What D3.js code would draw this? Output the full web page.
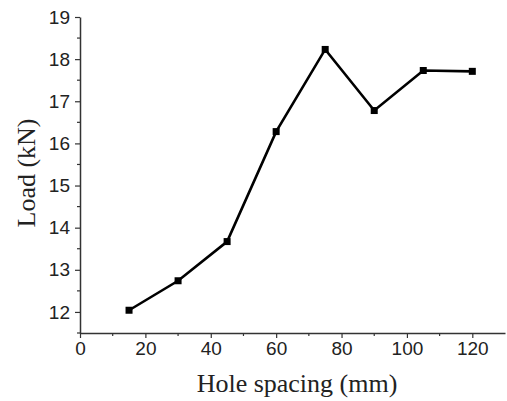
<!DOCTYPE html>
<html><head><meta charset="utf-8">
<script src="https://cdn.jsdelivr.net/npm/d3@7"></script>
<style>body{margin:0;background:#fff}svg{display:block}</style>
</head><body>
<svg id="c" width="507" height="401"></svg>
<script>
const spacing = [15, 30, 45, 60, 75, 90, 105, 120];
const load = [12.04, 12.74, 13.67, 16.28, 18.23, 16.78, 17.73, 17.71];
const xTicks = [0, 20, 40, 60, 80, 100, 120];
const yTicks = [12, 13, 14, 15, 16, 17, 18, 19];
const xTitle = "Hole spacing (mm)";
const yTitle = "Load (kN)";

const svg = d3.select("#c");
const L = 80, R = 505, T = 17, B = 333;
const x = d3.scaleLinear().domain([0, 130]).range([L, R]);
const y = d3.scaleLinear().domain([11.5, 19]).range([B, T]);
const axisColor = "#333";

const xMinor = d3.range(10, 130, 20);
const yMinor = d3.range(11.5, 19, 1);

const gx = svg.append("g").attr("transform", `translate(0,${B})`)
  .call(d3.axisBottom(x).tickValues(xTicks).tickSize(5).tickSizeOuter(0).tickPadding(4));
gx.append("g").selectAll("line").data(xMinor).join("line")
  .attr("x1", d => x(d)).attr("x2", d => x(d)).attr("y1", 0).attr("y2", 3);
const gy = svg.append("g").attr("transform", `translate(${L},0)`)
  .call(d3.axisLeft(y).tickValues(yTicks).tickSize(5).tickSizeOuter(0).tickPadding(5));
gy.append("g").selectAll("line").data(yMinor).join("line")
  .attr("y1", d => y(d)).attr("y2", d => y(d)).attr("x1", 0).attr("x2", -3);

[gx, gy].forEach(g => {
  g.select(".domain").attr("stroke", axisColor).attr("stroke-width", 1.5);
  g.selectAll("line").attr("stroke", axisColor).attr("stroke-width", 1.2);
  g.selectAll("text").attr("font-family", "Liberation Sans, Arial, sans-serif")
    .attr("font-size", 19).attr("fill", "#222");
});

const line = d3.line().x((d, i) => x(spacing[i])).y(d => y(d));
svg.append("path").datum(load).attr("d", line)
  .attr("fill", "none").attr("stroke", "#000").attr("stroke-width", 2.6)
  .attr("stroke-linejoin", "miter");
svg.append("g").selectAll("rect").data(load).join("rect")
  .attr("x", (d, i) => x(spacing[i]) - 3.5).attr("y", d => y(d) - 3.5)
  .attr("width", 7).attr("height", 7).attr("fill", "#000");

svg.append("text").attr("x", 297).attr("y", 392)
  .attr("text-anchor", "middle").attr("font-family", "Liberation Serif, Times New Roman, serif")
  .attr("font-size", 26).attr("fill", "#222").text(xTitle);
svg.append("text").attr("transform", `translate(35,173) rotate(-90)`)
  .attr("text-anchor", "middle").attr("font-family", "Liberation Serif, Times New Roman, serif")
  .attr("font-size", 26).attr("fill", "#222").text(yTitle);
</script>
</body></html>
